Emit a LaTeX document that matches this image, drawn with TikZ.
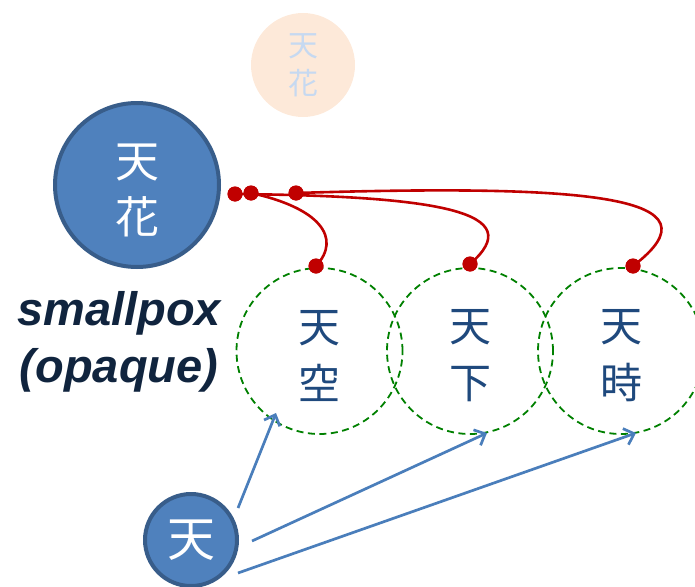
\documentclass[tikz,border=0pt]{standalone}
\usepackage{fontspec}
\setmainfont{Liberation Sans}
\newfontfamily\cjk{Noto Sans CJK JP}
\usetikzlibrary{arrows.meta}
\definecolor{ballfill}{HTML}{4F81BD}
\definecolor{balledge}{HTML}{385D8A}
\definecolor{ghostfill}{HTML}{FDE9D9}
\definecolor{ghosttext}{HTML}{C6D9F1}
\definecolor{kanjiblue}{HTML}{1F497D}
\definecolor{dashgreen}{HTML}{008000}
\definecolor{linkred}{HTML}{C00000}
\definecolor{arrowblue}{HTML}{4A7EBB}
\definecolor{labelnavy}{HTML}{10243E}
\tikzset{
  ball/.style={circle, draw=balledge, line width=4pt, fill=ballfill,
    inner sep=0pt},
  ballword/.style={text=white, inner sep=0pt, align=center,
    font=\cjk\fontsize{44}{56}\selectfont},
  ghost/.style={circle, fill=ghostfill, inner sep=0pt, minimum size=104pt,
    text=ghosttext, align=center, font=\cjk\fontsize{30}{38}\selectfont},
  group/.style={circle, draw=dashgreen, dash pattern=on 7pt off 4.5pt,
    line width=1.8pt, minimum size=166pt, inner sep=0pt},
  groupword/.style={text=kanjiblue, inner sep=0pt, align=center,
    font=\cjk\fontsize{42}{57}\selectfont},
  pin/.style={circle, fill=linkred, inner sep=0pt, minimum size=15pt},
  link/.style={draw=linkred, line width=2.6pt},
  ref/.style={draw=arrowblue, line width=2.7pt,
    -{Straight Barb[length=9pt,width=17pt,line width=2.7pt]}},
  tag/.style={font=\fontsize{47}{57}\selectfont\bfseries\itshape,
    align=center, inner sep=0pt}
}
\begin{document}
\begin{tikzpicture}[x=1pt,y=-1pt]
\useasboundingbox (0,0) rectangle (695,586);

% faded copy of the object
\node[ghost] (ghost) at (303,65) {天\\花};

% the opaque object and its label
\node[ball, minimum size=164pt] (flower) at (137,185) {};
\node[ballword, yshift=-5pt] (flowerword) at (flower.center) {天\\花};
\node[tag, text=labelnavy] (label) at (119,342) {smallpox\\(opaque)};

% the three containing words
\node[group] (sky) at (319.5,351) {};
\node[group] (world) at (470,351) {};
\node[group] (time) at (621,351) {};
\node[groupword, yshift=-5pt] (skyword) at (sky.center) {天\\空};
\node[groupword, yshift=-5pt] (worldword) at (world.center) {天\\下};
\node[groupword, yshift=-5pt] (timeword) at (time.center) {天\\時};

% the single character
\node[ball, minimum size=92pt] (heaven) at (191,540) {};
\node[ballword, font=\cjk\fontsize{48}{56}\selectfont] (heavenword) at (heaven.center) {天};

% links from the object to each word
\node[pin] (p1) at (235,194) {};
\node[pin] (p2) at (251,193) {};
\node[pin] (p3) at (296,193) {};
\node[pin] (q1) at (316,266) {};
\node[pin] (q2) at (470,264) {};
\node[pin] (q3) at (633,266) {};
\draw[link] (p2.center) .. controls (320,208) and (342,238) .. (q1.center);
\draw[link] (p1.center) .. controls (440,196) and (530,212) .. (q2.center);
\draw[link] (p3.center) .. controls (590,184) and (725,196) .. (q3.center);
\node[pin] at (p1) {};
\node[pin] at (p2) {};
\node[pin] at (p3) {};
\node[pin] at (q1) {};
\node[pin] at (q2) {};
\node[pin] at (q3) {};

% references from the character into the words
\coordinate (s1) at (238,508);
\coordinate (s2) at (252,541);
\coordinate (s3) at (238,573);
\coordinate (t1) at (276,413);
\coordinate (t2) at (487,433);
\coordinate (t3) at (636,433);
\draw[ref] (s1) -- (t1);
\draw[ref] (s2) -- (t2);
\draw[ref] (s3) -- (t3);
\end{tikzpicture}
\end{document}
